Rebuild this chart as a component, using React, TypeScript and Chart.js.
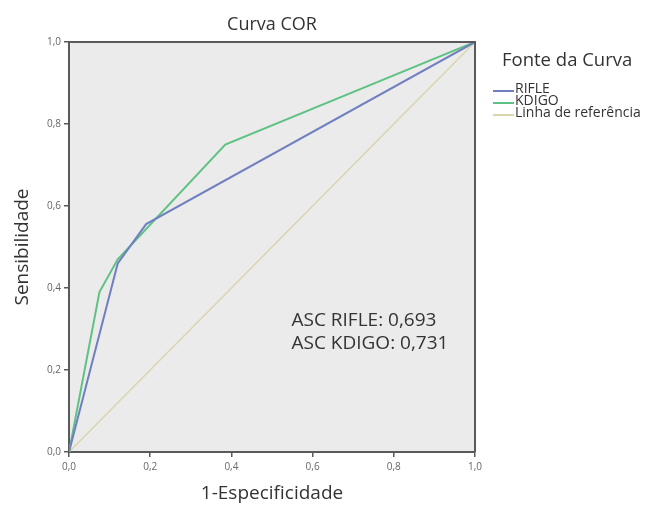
import React, { useEffect, useRef } from "react";
import { Chart, registerables } from "chart.js";

Chart.register(...registerables);

const rifleX = [0, 0.12, 0.19, 1];
const rifleY = [0, 0.46, 0.556, 1];
const kdigoX = [0, 0.075, 0.12, 0.385, 1];
const kdigoY = [0, 0.39, 0.47, 0.75, 1];
const refX = [0, 1];
const refY = [0, 1];
const seriesNames = ["RIFLE", "KDIGO", "Linha de referência"];
const seriesColors = ["#6f7fc0", "#5ec283", "#d9d6ac"];
const chartTitle = "Curva COR";
const legendTitle = "Fonte da Curva";
const xTitle = "1-Especificidade";
const yTitle = "Sensibilidade";
const annotations = ["ASC RIFLE: 0,693", "ASC KDIGO: 0,731"];

const FONT = "'Open Sans', 'DejaVu Sans', sans-serif";

const toPts = (xs: number[], ys: number[]) => xs.map((x, i) => ({ x, y: ys[i] }));
const fmt = (v: number) => (Math.round(v * 10) / 10).toFixed(1).replace(".", ",");

const decor = {
  id: "decor",
  beforeDraw(chart: any) {
    const { ctx, chartArea: a } = chart;
    ctx.save();
    ctx.fillStyle = "#ebebeb";
    ctx.fillRect(a.left, a.top, a.right - a.left, a.bottom - a.top);
    ctx.restore();
  },
  afterDraw(chart: any) {
    const { ctx, chartArea: a } = chart;
    ctx.save();
    // top and right frame
    ctx.strokeStyle = "#5a5a5a";
    ctx.lineWidth = 2;
    ctx.beginPath();
    ctx.moveTo(a.left, a.top);
    ctx.lineTo(a.right, a.top);
    ctx.lineTo(a.right, a.bottom);
    ctx.stroke();

    // title
    ctx.fillStyle = "#333";
    ctx.font = `18px ${FONT}`;
    ctx.textAlign = "center";
    ctx.textBaseline = "middle";
    ctx.fillText(chartTitle, (a.left + a.right) / 2, 25);

    // annotations
    ctx.font = `19px ${FONT}`;
    ctx.textAlign = "left";
    ctx.fillStyle = "#333";
    const ax = chart.scales.x.getPixelForValue(0.548);
    annotations.forEach((t, i) => {
      ctx.fillText(t, ax, chart.scales.y.getPixelForValue(0.32) + i * 23);
    });

    // legend
    ctx.font = `18.5px ${FONT}`;
    ctx.fillStyle = "#333";
    ctx.fillText(legendTitle, 502, 61);
    ctx.font = `14px ${FONT}`;
    seriesNames.forEach((name, i) => {
      const y = 89 + i * 12;
      ctx.strokeStyle = seriesColors[i];
      ctx.lineWidth = 2;
      ctx.beginPath();
      ctx.moveTo(493, y + 2);
      ctx.lineTo(514, y + 2);
      ctx.stroke();
      ctx.fillStyle = "#333";
      ctx.fillText(name, 515, y);
    });
    ctx.restore();
  },
};

function ChartView() {
  const ref = useRef<HTMLCanvasElement | null>(null);
  useEffect(() => {
    if (!ref.current) return;
    const axisCommon = (title: string, isX: boolean) => ({
      type: "linear" as const,
      min: 0,
      max: 1,
      ticks: {
        stepSize: 0.2,
        callback: (v: any) => fmt(Number(v)),
        font: { size: 10, family: FONT },
        color: "#666",
        padding: isX ? 4 : 3,
      },
      grid: {
        drawOnChartArea: false,
        drawTicks: true,
        tickLength: 5,
        color: "#5a5a5a",
        lineWidth: 1.5,
      },
      border: { color: "#5a5a5a", width: 2 },
      title: {
        display: true,
        text: title,
        font: { size: 19, family: FONT },
        color: "#333",
        padding: isX ? { top: 0, bottom: 0 } : { top: 11, bottom: 0 },
      },
      afterFit: (s: any) => {
        if (isX) s.height = 53;
        else s.width = 69;
      },
    });
    const chart = new Chart(ref.current, {
      type: "scatter",
      data: {
        datasets: [
          {
            label: seriesNames[0],
            data: toPts(rifleX, rifleY),
            showLine: true,
            borderColor: seriesColors[0],
            borderWidth: 2,
            pointRadius: 0,
            tension: 0,
          },
          {
            label: seriesNames[1],
            data: toPts(kdigoX, kdigoY),
            showLine: true,
            borderColor: seriesColors[1],
            borderWidth: 2,
            pointRadius: 0,
            tension: 0,
          },
          {
            label: seriesNames[2],
            data: toPts(refX, refY),
            showLine: true,
            borderColor: seriesColors[2],
            borderWidth: 1.5,
            pointRadius: 0,
            tension: 0,
          },
        ],
      },
      options: {
        responsive: false,
        animation: false,
        layout: { padding: { top: 42, right: 173, left: 0, bottom: 0 } },
        plugins: {
          legend: { display: false },
          title: { display: false },
          tooltip: { enabled: false },
        },
        scales: {
          x: axisCommon(xTitle, true),
          y: axisCommon(yTitle, false),
        },
      },
      plugins: [decor],
    });
    return () => chart.destroy();
  }, []);
  return <canvas ref={ref} width={648} height={505} />;
}

export default function App() {
  return (
    <div style={{ position: "absolute", left: 0, top: 0, width: 648, height: 505, background: "#fff" }}>
      <ChartView />
    </div>
  );
}
